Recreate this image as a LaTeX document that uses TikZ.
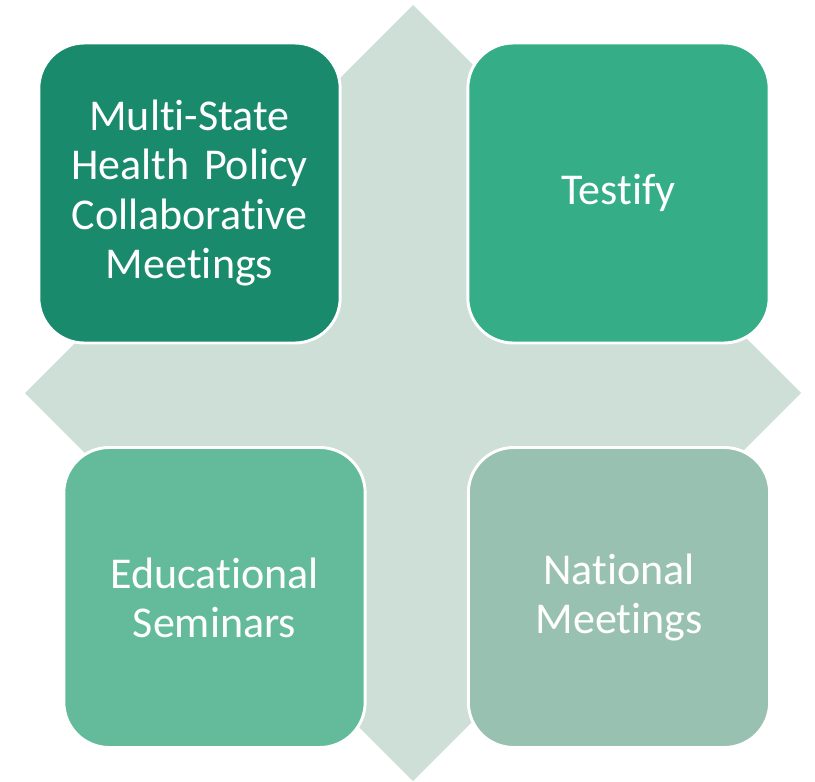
\documentclass[tikz,border=0pt]{standalone}
\usepackage{fontspec}
\setmainfont{Carlito}[Ligatures={NoCommon,NoRare,NoContextual}]
\definecolor{diam}{HTML}{CDDFD7}
\definecolor{cA}{HTML}{1A8A6C}
\definecolor{cB}{HTML}{35AE87}
\definecolor{cC}{HTML}{63BB9B}
\definecolor{cD}{HTML}{99C1B1}
\begin{document}
\begin{tikzpicture}[x=0.75pt,y=-0.75pt,
  box/.style={draw=white, line width=2.2pt, rounded corners=34pt,
    minimum width=226pt, minimum height=225pt, inner sep=0pt,
    text=white, align=center, text width=200pt,
    font=\fontsize{33}{36.8}\selectfont}]
\useasboundingbox (0,0) rectangle (815,782);
\fill[diam] (413,5) -- (801,393) -- (413,781) -- (25,393) -- cycle;
\node[box, fill=cA] (tl) at (189.5,193) {Multi-State\\Health Policy\\Collaborative\\Meetings};
\node[box, fill=cB] (tr) at (618.5,193) {Testify};
\node[box, fill=cC] (bl) at (214.5,597.5) {Educational\\Seminars};
\node[box, fill=cD] (br) at (619,597.5) {National\\Meetings};
\end{tikzpicture}
\end{document}
